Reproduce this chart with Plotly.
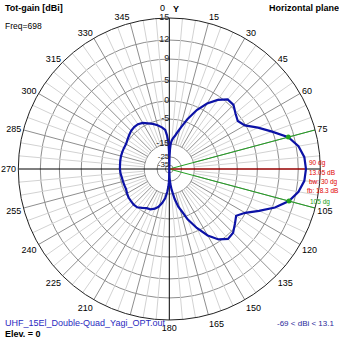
import numpy as np
import plotly.graph_objects as go

W = H = 339
CX, CY, R = 169.3, 169.0, 151.0
FONT = "Liberation Sans"

# radial scale of the chart (dBi -> fraction of radius), read from the ring positions
DB_SCALE = [-70, -35, -25, -15, -5, 0, 5, 9, 12, 15]
R_SCALE = [0.0, 0.026, 0.081, 0.166, 0.331, 0.45, 0.583, 0.728, 0.854, 1.0]

RING_DB = [15, 12, 9, 5, 0, -5, -15, -25, -35]
RING_LABELS = ["15", "12", "9", "5", "0", "-5", "-15", "-25", "-35"]

ANGLE_TICKS = [15, 30, 45, 60, 75, 105, 120, 135, 150, 165, 180,
               210, 225, 240, 255, 270, 285, 300, 315, 330, 345]

# pattern: azimuth (deg) and total gain (dBi)
AZIMUTH = [0, 1, 2, 3, 4, 5, 7, 10, 13, 16, 20, 25, 30, 35, 40, 45, 50, 55, 60, 65,
           70, 75, 80, 85, 90, 95, 100, 105, 110, 115, 120, 125, 130, 135, 140, 145,
           150, 155, 160, 163, 166.6, 170, 173.5, 176, 178, 180,
           181, 182, 183, 185, 188, 192, 196, 200, 205, 210, 215, 220, 225, 230, 235,
           240, 245, 250, 255, 260, 265, 270, 275, 280, 285, 290, 295, 300, 305, 310,
           315, 320, 325, 330, 335, 340, 345, 350, 354, 356, 358, 359, 360]
GAIN_DBI = [-69, -25.2, -19.2, -15.7, -14.2, -13.5, -12.6, -11.4, -9.6, -7.5, -4.2, -0.8,
            1.9, 4.1, 5.5, 5.5, 4.6, 3.9, 4.8, 6.8,
            8.9, 11.1, 12.3, 12.9, 13.05, 12.9, 12.3, 11.2, 9.4, 7.0, 4.9, 3.4, 4.4, 5.4, 5.6, 4.5,
            2.2, -0.8, -4.0, -6.9, -9.5, -12.9, -18.1, -22.8, -28.8, -69,
            -28.8, -23.9, -20.8, -16.9, -13.2, -11.1, -9.3, -8.1, -7.2, -6.9, -6.0, -5.0, -4.9, -5.0, -5.1,
            -5.5, -5.9, -5.9, -5.8, -5.7, -5.4, -5.25, -5.2, -5.1, -5.0, -5.0, -5.0, -5.0, -4.7, -4.3,
            -3.9, -3.7, -3.7, -4.1, -4.9, -5.8, -6.9, -8.1, -9.3, -11.4, -14.2, -20.4, -69]

MAX_DIR = 90
MAX_GAIN = 13.05
BW_EDGES = [75, 105]
BW_GAIN = [11.1, 11.2]


def rs(db):
    return np.interp(db, DB_SCALE, R_SCALE)


fig = go.Figure()

# spokes (grid)
r_in = float(rs(-15))
minor_r, minor_t, major_r, major_t = [], [], [], []
for a in range(5, 360, 5):
    if a % 90 == 0:
        continue
    if a % 15 == 0:
        major_r += [r_in, 1, None]; major_t += [a, a, None]
    else:
        minor_r += [r_in, 1, None]; minor_t += [a, a, None]
fig.add_trace(go.Scatterpolar(r=minor_r, theta=minor_t, mode="lines",
                              line=dict(color="#d2d2d2", width=1), hoverinfo="skip"))
fig.add_trace(go.Scatterpolar(r=major_r, theta=major_t, mode="lines",
                              line=dict(color="#8e8e8e", width=1), hoverinfo="skip"))
# main axes
fig.add_trace(go.Scatterpolar(r=[1, 0, 1, None, 1, 0, 1], theta=[0, 0, 180, None, 90, 90, 270],
                              mode="lines", line=dict(color="black", width=1), hoverinfo="skip"))
# beamwidth lines
for a in BW_EDGES:
    fig.add_trace(go.Scatterpolar(r=[0, 1], theta=[a, a], mode="lines",
                                  line=dict(color="#22a022", width=1), hoverinfo="skip"))
# max direction line
fig.add_trace(go.Scatterpolar(r=[0, float(rs(MAX_GAIN))], theta=[MAX_DIR, MAX_DIR], mode="lines",
                              line=dict(color="#e00000", width=1), hoverinfo="skip"))
# pattern
fig.add_trace(go.Scatterpolar(r=rs(np.array(GAIN_DBI)), theta=AZIMUTH, mode="lines",
                              line=dict(color="#0c12a6", width=2.2), hoverinfo="skip"))
fig.add_trace(go.Scatterpolar(r=rs(np.array(BW_GAIN)), theta=BW_EDGES, mode="markers",
                              marker=dict(color="#22a022", size=5), hoverinfo="skip"))
# ring labels
ring_sizes = [9, 9, 9, 9, 9, 9, 9, 8, 8]
fig.add_trace(go.Scatterpolar(r=rs(np.array(RING_DB)), theta=[0] * len(RING_DB), mode="text",
                              text=RING_LABELS, textposition="middle left",
                              textfont=dict(family=FONT, size=ring_sizes, color="#222"),
                              cliponaxis=False, hoverinfo="skip"))

fig.update_layout(
    width=W, height=H, margin=dict(l=0, r=0, t=0, b=0),
    paper_bgcolor="white", showlegend=False,
    polar=dict(
        domain=dict(x=[(CX - R) / W, (CX + R) / W], y=[1 - (CY + R) / H, 1 - (CY - R) / H]),
        bgcolor="white",
        angularaxis=dict(direction="clockwise", rotation=90, thetaunit="degrees",
                         tickmode="array", tickvals=ANGLE_TICKS,
                         ticktext=[str(a) for a in ANGLE_TICKS],
                         showgrid=False, showline=True, linecolor="#222", linewidth=1,
                         ticks="", tickfont=dict(family=FONT, size=9, color="black")),
        radialaxis=dict(range=[0, 1], tickmode="array", tickvals=list(rs(np.array(RING_DB))),
                        showticklabels=False, showline=False, ticks="",
                        gridcolor="#8e8e8e", gridwidth=1),
    ),
)


def ann(text, x, y, size=9, color="black", xanchor="left"):
    fig.add_annotation(text=text, x=x / W, y=1 - y / H, xref="paper", yref="paper",
                       xanchor=xanchor, yanchor="middle", showarrow=False,
                       font=dict(family=FONT, size=size, color=color))


ann("<b>Tot-gain [dBi]</b>", 3, 8)
ann("Freq=698", 3, 26, 8.5)
ann("<b>Horizontal plane</b>", 267, 8)
ann("<b>Y</b>", 176, 9, 9, xanchor="center")
ann("0", 162, 8, 9, xanchor="center")
ann("UHF_15El_Double-Quad_Yagi_OPT.out", 3, 323, 9, "#2a2ac0")
ann("<b>Elev. = 0</b>", 3, 334)
ann("-69 < dBi < 13.1", 336, 323, 8, "#2a2a9a", xanchor="right")
ann("90 dg", 307, 163, 6.5, "#e00000")
ann("13.05 dB", 307, 172, 6.5, "#e00000")
ann("bw: 30 dg", 307, 181.5, 6.5, "#e00000")
ann("fb: 18.3 dB", 305, 190, 6.5, "#e00000")
ann("105 dg", 308, 202, 6.5, "#22a022")

fig.write_html("out.html")
